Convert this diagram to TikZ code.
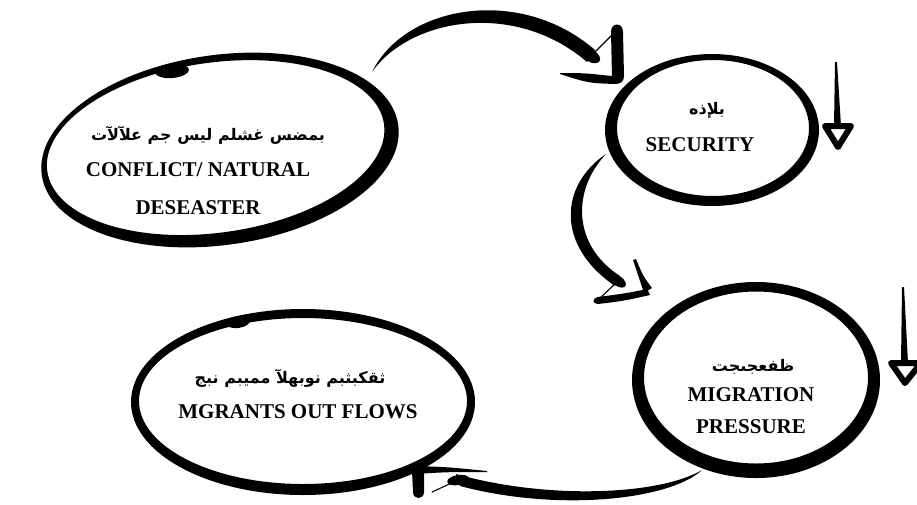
\documentclass[tikz,border=0pt]{standalone}
\usepackage{fontspec}
\setmainfont{Liberation Serif}
\newfontfamily\arabicfont[Script=Arabic]{DejaVu Sans}
\TeXXeTstate=1
\usetikzlibrary{positioning, calc}

\begin{document}
\begin{tikzpicture}[
    x=1pt, y=-1pt,
    ring/.style={fill=black, even odd rule},
    brush/.style={fill=black},
    hair/.style={draw=black, line width=1.1pt, line cap=round},
    entxt/.style={font=\fontsize{21}{38}\selectfont\bfseries, align=center, inner sep=0pt},
    artxt/.style={font=\arabicfont\bfseries\fontsize{16}{18}\selectfont, inner sep=0pt},
    downhead/.style={draw=black, fill=white, line width=6pt, line join=round},
]
\path[fill=white, use as bounding box] (0,0) rectangle (917,504);

% brush rings
\fill[ring, rotate around={8:(220,150)}] (220,150) ellipse [x radius=180, y radius=95]
    (216,147) ellipse [x radius=170, y radius=85];
\fill[brush, rotate around={5:(172,71)}] (172,71) ellipse [x radius=17, y radius=7];
\fill[ring] (712,130) ellipse [x radius=107, y radius=76]
    (713,128) ellipse [x radius=96, y radius=68];
\fill[ring] (756,380) ellipse [x radius=124, y radius=98]
    (756,377.5) ellipse [x radius=112, y radius=86];
\fill[ring] (303,402) ellipse [x radius=172, y radius=93]
    (303,401) ellipse [x radius=164, y radius=83];
\fill[brush, rotate around={8:(238,322)}] (238,322) ellipse [x radius=12, y radius=6];

% texts
\node[entxt] (conflict) at (198,189) {CONFLICT/ NATURAL\\DESEASTER};
\node[artxt] (conflictar) at ([shift={(10,-54)}]conflict.center) {\beginR بمضس غشلم ليس جم علآلآت\endR};
\node[entxt] (security) at (700,145) {SECURITY};
\node[artxt] (securityar) at ([shift={(7,-35)}]security.center) {\beginR بلإذه\endR};
\node[entxt, font=\fontsize{21}{32}\selectfont\bfseries] (migration) at (751,411) {MIGRATION\\PRESSURE};
\node[artxt] (migrationar) at ([shift={(2,-44)}]migration.center) {\beginR ظفعجىجت\endR};
\node[entxt] (migrants) at (298,412) {MGRANTS OUT FLOWS};
\node[artxt] (migrantsar) at ([shift={(-8,-34)}]migrants.center) {\beginR ثقكبثبم نوبهلآ مميبم نبج\endR};

% connector ends
\coordinate (a1s) at (372,72);
\coordinate (a1e) at (591,56);
\coordinate (h1) at (618,80);
\coordinate (a2s) at (606,154);
\coordinate (a2e) at (618,281);
\coordinate (h2) at (648,290);
\coordinate (a3s) at (702,470);
\coordinate (a3e) at (458,480);
\coordinate (h3) at (417,469);

% conflict -> security
\fill[brush] (a1s) .. controls +(33,-67) and +(-75,-65) .. ([shift={(4,-6)}]a1e)
    -- ([shift={(-4,6)}]a1e) .. controls +(-72,-62) and +(38,-54) .. (a1s) -- cycle;
\fill[brush, rotate around={-30:(a1e)}] (a1e) ellipse [x radius=10, y radius=6];
\draw[hair] (a1e) -- ([shift={(-1,-50)}]h1);
\begin{scope}[shift={(h1)}]
\fill[brush] (-7,-48) .. controls (-7,-58) and (5,-58) .. (5,-48) -- (6,-4)
    .. controls (6,2) and (2,4) .. (-3,4) -- (-6,-2) -- cycle;
\fill[brush] (-58,-7) .. controls (-35,-7) .. (-6,-4) -- (-3,4)
    .. controls (-30,3) .. (-58,-6) -- cycle;
\end{scope}

% security -> migration
\fill[brush] (a2s) .. controls +(-46,31) and +(-60,-41) .. ([shift={(-3,5)}]a2e)
    -- ([shift={(2,-5)}]a2e) .. controls +(-48,-31) and +(-34,36) .. (a2s) -- cycle;
\fill[brush, rotate around={-35:(a2e)}] (a2e) ellipse [x radius=9, y radius=5];
\draw[hair] (a2e) -- ([shift={(-50,10)}]h2);
\begin{scope}[shift={(h2)}]
\fill[brush] (-15,-30) .. controls (-10,-15) .. (-4,3) -- (4,-2)
    .. controls (-5,-14) .. (-12,-31) -- cycle;
\fill[brush] (-1,-1) .. controls (-20,3) .. (-50,7) .. controls (-56,8) and (-56,14) .. (-50,14)
    .. controls (-25,11) .. (2,5) -- cycle;
\end{scope}

% migration -> migrants
\fill[brush] (a3s) .. controls +(-32,30) and +(98,26) .. ([shift={(2,6)}]a3e)
    -- ([shift={(-2,-6)}]a3e) .. controls +(92,26) and +(-42,25) .. (a3s) -- cycle;
\fill[brush, rotate around={10:(a3e)}] (a3e) ellipse [x radius=11, y radius=5];
\draw[hair] (a3e) -- ([shift={(15,23)}]h3);
\begin{scope}[shift={(h3)}]
\fill[brush] (-2,-3) .. controls (30,-2) .. (70,2) -- (70,3)
    .. controls (30,3) .. (-2,5) -- cycle;
\fill[brush] (-5,2) -- (7,2) -- (7,23) .. controls (7,31) and (-4,31) .. (-4,23) -- cycle;
\end{scope}

% side down arrows
\coordinate (d1s) at (835,62);
\coordinate (d1e) at (838,126);
\fill[brush] (d1s) -- ++(2,0) -- ([xshift=3pt]d1e) -- ([xshift=-4pt]d1e) -- cycle;
\draw[downhead] ([xshift=-13pt]d1e) -- ([xshift=13pt]d1e) -- ([yshift=-21pt]d1e) -- cycle;
\coordinate (d2s) at (902,287);
\coordinate (d2e) at (905,363);
\fill[brush] (d2s) -- ++(2,0) -- ([xshift=3pt]d2e) -- ([xshift=-4pt]d2e) -- cycle;
\draw[downhead] ([xshift=-14pt]d2e) -- ([xshift=16pt]d2e) -- ([yshift=-20pt]d2e) -- cycle;
\end{tikzpicture}
\end{document}
